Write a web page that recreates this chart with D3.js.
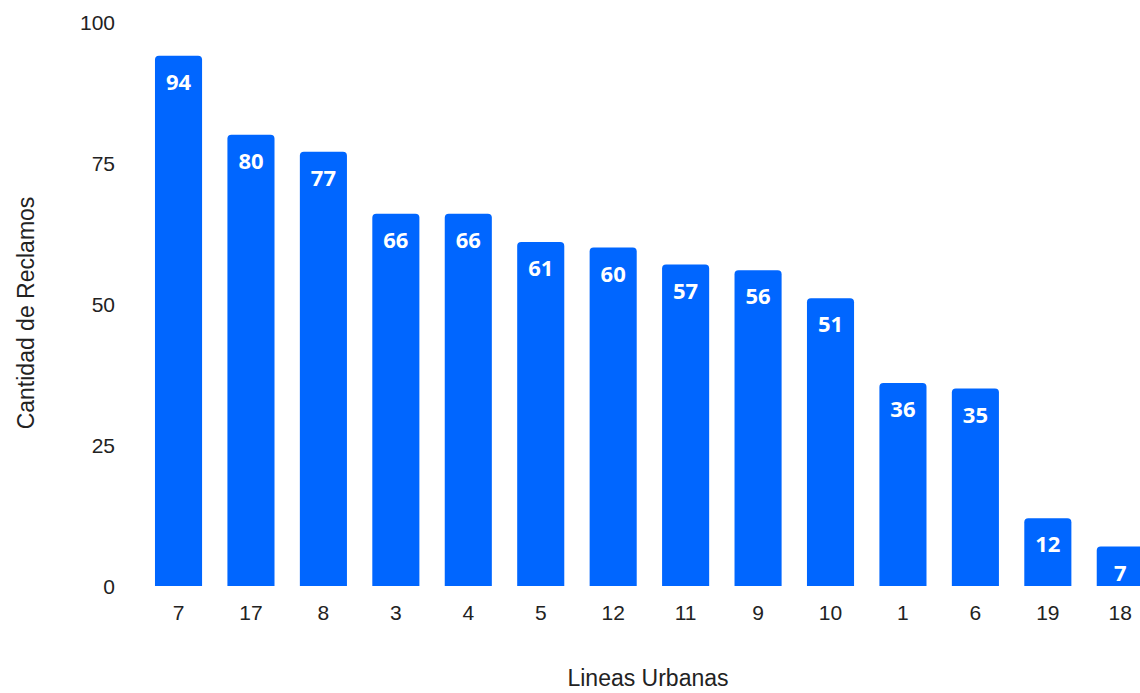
<!DOCTYPE html>
<html>
<head>
<meta charset="utf-8">
<script src="https://cdn.jsdelivr.net/npm/d3@7"></script>
<style>
  html, body { margin: 0; padding: 0; background: #fff; overflow: hidden; }
  svg { display: block; }
</style>
</head>
<body>
<div id="chart"></div>
<script>
'use strict';

// lineas urbanas y cantidad de reclamos
var lineas = ['7', '17', '8', '3', '4', '5', '12', '11', '9', '10', '1', '6', '19', '18'];
var reclamos = [94, 80, 77, 66, 66, 61, 60, 57, 56, 51, 36, 35, 12, 7];
var yTicks = [0, 25, 50, 75, 100];

var width = 1140;
var height = 693;
var barColor = '#0066ff';

var svg = d3.select('#chart').append('svg')
  .attr('width', width)
  .attr('height', height);

var x = d3.scaleBand()
  .domain(lineas)
  .range([142.3, 1156.5])
  .paddingInner(0.35)
  .paddingOuter(0.175);

var y = d3.scaleLinear()
  .domain([0, 100])
  .range([586, 22]);

// top-rounded bar path
function barPath(x0, y0, w, h, r) {
  r = Math.min(r, h, w / 2);
  return 'M' + x0 + ',' + (y0 + h) +
    'V' + (y0 + r) +
    'Q' + x0 + ',' + y0 + ' ' + (x0 + r) + ',' + y0 +
    'H' + (x0 + w - r) +
    'Q' + (x0 + w) + ',' + y0 + ' ' + (x0 + w) + ',' + (y0 + r) +
    'V' + (y0 + h) + 'Z';
}

var data = lineas.map(function (d, i) {
  return { linea: d, value: reclamos[i] };
});

// bars
svg.append('g').attr('class', 'bars')
  .selectAll('path').data(data)
  .enter().append('path')
  .attr('d', function (d) {
    return barPath(x(d.linea), y(d.value), x.bandwidth(), y(0) - y(d.value), 4);
  })
  .attr('fill', barColor);

// value labels
svg.append('g').attr('class', 'labels')
  .selectAll('text').data(data)
  .enter().append('text')
  .attr('x', function (d) { return x(d.linea) + x.bandwidth() / 2; })
  .attr('y', function (d) { return y(d.value) + 34; })
  .attr('text-anchor', 'middle')
  .style('font-family', '"Open Sans", sans-serif')
  .style('font-weight', 'bold')
  .style('font-size', '22px')
  .style('fill', '#fff')
  .text(function (d) { return d.value; });

// y axis
var yAxis = svg.append('g')
  .attr('transform', 'translate(115,0)')
  .call(d3.axisLeft(y).tickValues(yTicks).tickSize(0).tickPadding(0));
yAxis.select('.domain').remove();
yAxis.selectAll('text')
  .attr('dy', '0.36em')
  .style('font-family', '"Liberation Sans", Arial, sans-serif')
  .style('font-size', '21px')
  .style('fill', '#222');

// x axis
var xAxis = svg.append('g')
  .attr('transform', 'translate(0,586)')
  .call(d3.axisBottom(x).tickSize(0).tickPadding(19));
xAxis.select('.domain').remove();
xAxis.selectAll('text')
  .style('font-family', '"Liberation Sans", Arial, sans-serif')
  .style('font-size', '21px')
  .style('fill', '#222');

// axis titles
svg.append('text')
  .attr('x', 648)
  .attr('y', 686)
  .attr('text-anchor', 'middle')
  .style('font-family', '"Liberation Sans", Arial, sans-serif')
  .style('font-size', '23px')
  .style('fill', '#222')
  .text('Lineas Urbanas');

svg.append('text')
  .attr('transform', 'translate(34,313) rotate(-90)')
  .attr('text-anchor', 'middle')
  .style('font-family', '"Liberation Sans", Arial, sans-serif')
  .style('font-size', '23px')
  .style('fill', '#222')
  .text('Cantidad de Reclamos');
</script>
</body>
</html>
